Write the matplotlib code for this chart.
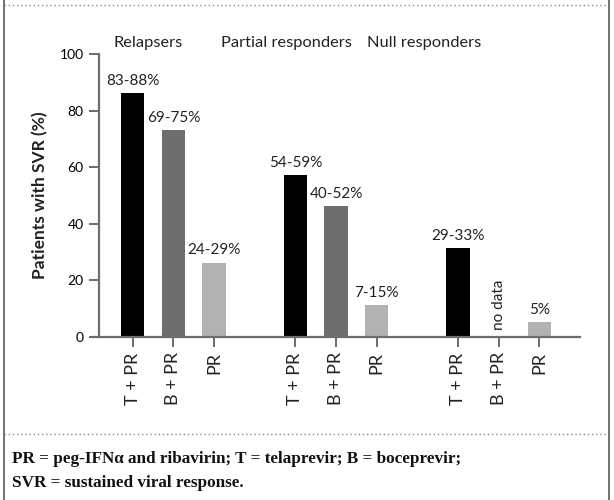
import matplotlib
matplotlib.use("Agg")
import matplotlib.pyplot as plt
from matplotlib.lines import Line2D

# data
groups = ["Relapsers", "Partial responders", "Null responders"]
treatments = ["T + PR", "B + PR", "PR"]
svr = [
    [86.2, 73.1, 26.3],
    [57.2, 46.3, 11.3],
    [31.3, None, 5.4],
]
bar_labels = [
    ["83-88%", "69-75%", "24-29%"],
    ["54-59%", "40-52%", "7-15%"],
    ["29-33%", "no data", "5%"],
]
colors = ["#000000", "#6e6e6f", "#b2b2b3"]
yticks = [0, 20, 40, 60, 80, 100]

sans = ["Lato", "DejaVu Sans"]
plt.rcParams["font.family"] = sans

fig = plt.figure(figsize=(6.14, 5.0), dpi=100)
W, H = 614, 500
ax = fig.add_axes([92 / W, 1 - 337 / H, (580 - 92) / W, (337 - 54) / H])

xpos = []
xlab = []
for g in range(3):
    for t in range(3):
        x = g * 4 + t
        xpos.append(x)
        xlab.append(treatments[t])
        v = svr[g][t]
        lab = bar_labels[g][t]
        if v is None:
            ax.text(x, 2.5, lab, rotation=90, ha="center", va="bottom",
                    fontsize=11, color="#222222")
            continue
        ax.bar(x, v, width=0.57, color=colors[t], zorder=2)
        ax.text(x, v + 1.8, lab, ha="center", va="bottom", fontsize=11,
                color="#222222")

title_x = [0.38, 3.77, 7.16]
for g, name in enumerate(groups):
    ax.text(title_x[g], 104, name, ha="center", va="center", fontsize=11.8,
            color="#222222", clip_on=False)

ax.set_xlim(-1, 11)
ax.set_ylim(0, 100)
ax.set_xticks(xpos)
ax.set_xticklabels(xlab, rotation=90, fontsize=13, color="#222222")
ax.set_yticks(yticks)
ax.set_yticklabels([str(v) for v in yticks], fontsize=13, color="#222222")

for s in ["top", "right"]:
    ax.spines[s].set_visible(False)
ax.spines["left"].set_position(("data", -0.83))
for s in ["left", "bottom"]:
    ax.spines[s].set_color("#6d6d6d")
    ax.spines[s].set_linewidth(1.6)
ax.tick_params(axis="both", direction="out", length=7, width=1.4,
               color="#6d6d6d", pad=4)

ax.set_ylabel("Patients with SVR (%)", fontsize=12.5, fontweight="bold",
              color="#222222", labelpad=8)

# frame: solid sides, dotted top and bottom separators
frame = "#666666"
fig.add_artist(Line2D([3.7 / W, 3.7 / W], [0, 1], color=frame, lw=1.3))
fig.add_artist(Line2D([609 / W, 609 / W], [0, 1], color=frame, lw=1.3))
fig.add_artist(Line2D([3.7 / W, 609 / W], [1 - 5 / H, 1 - 5 / H],
                      color="#888888", lw=1.0, ls=(0, (1, 2))))
fig.add_artist(Line2D([3.7 / W, 609 / W], [1 - 434 / H, 1 - 434 / H],
                      color="#888888", lw=1.0, ls=(0, (1, 2))))

footer = ["PR = peg-IFN\u03b1 and ribavirin; T = telaprevir; B = boceprevir;",
          "SVR = sustained viral response."]
fig.text(12.5 / W, 1 - 459 / H, footer[0], ha="left", va="center",
         fontsize=12.3, fontweight="bold", family="Liberation Serif",
         color="#111111")
fig.text(12.5 / W, 1 - 483 / H, footer[1], ha="left", va="center",
         fontsize=12.3, fontweight="bold", family="Liberation Serif",
         color="#111111")

fig.savefig("out.png", dpi=100)
